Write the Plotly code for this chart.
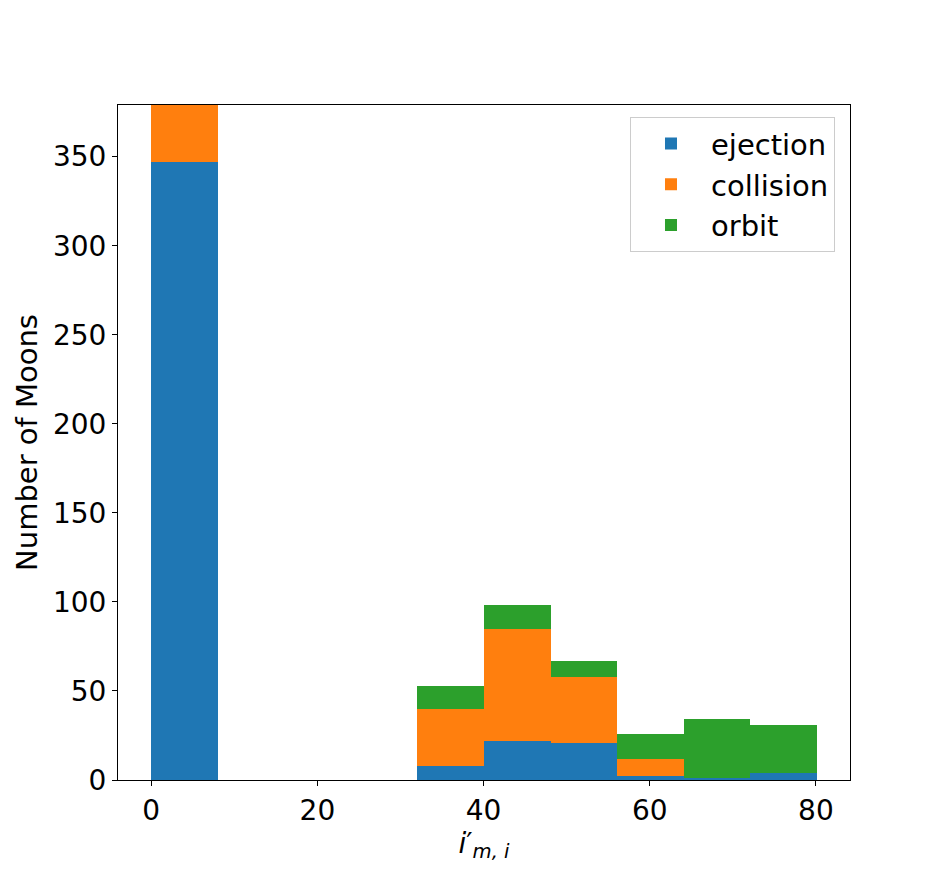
import plotly.graph_objects as go

# Histogram bin edges (inclination, deg) and stacked counts per bin
bin_edges = [0.0, 8.01, 16.02, 24.03, 32.04, 40.05, 48.06, 56.07, 64.08, 72.09, 80.1]
ejection = [347, 0, 0, 0, 8, 22, 21, 2, 1, 4]
collision = [40, 0, 0, 0, 32, 63, 37, 10, 0, 0]
orbit = [0, 0, 0, 0, 13, 13, 9, 14, 33, 27]

series = [("ejection", ejection, "#1f77b4"),
          ("collision", collision, "#ff7f0e"),
          ("orbit", orbit, "#2ca02c")]

centers = [(a + b) / 2 for a, b in zip(bin_edges[:-1], bin_edges[1:])]
widths = [b - a for a, b in zip(bin_edges[:-1], bin_edges[1:])]

fig = go.Figure()
for name, vals, col in series:
    fig.add_trace(go.Bar(x=centers, y=vals, width=widths, name=name,
                         legendgroup=name,
                         marker=dict(color=col, line=dict(width=0))))

font = "DejaVu Sans, Liberation Sans, sans-serif"
fig.update_layout(
    barmode="stack",
    width=944, height=876,
    margin=dict(l=118, r=94, t=105, b=96),
    plot_bgcolor="white", paper_bgcolor="white",
    font=dict(family=font, size=28, color="black"),
    showlegend=True,
    legend=dict(x=0.9795, y=0.982, xanchor="right", yanchor="top",
                traceorder="normal",
                bordercolor="#cccccc", borderwidth=1, bgcolor="rgba(255,255,255,0.8)",
                font=dict(size=29), itemwidth=70, tracegroupgap=12),
    xaxis=dict(range=[-4.005, 84.105], tickvals=[0, 20, 40, 60, 80],
               ticks="outside", ticklen=5, tickwidth=1, tickcolor="black",
               showline=True, linecolor="black", linewidth=1, mirror=True,
               showgrid=False, zeroline=False,
               title=dict(text="<i>i</i>′<sub><i>m, i</i></sub>", standoff=6,
                          font=dict(size=28))),
    yaxis=dict(range=[0, 379], tickvals=[0, 50, 100, 150, 200, 250, 300, 350],
               ticks="outside", ticklen=5, tickwidth=1, tickcolor="black",
               showline=True, linecolor="black", linewidth=1, mirror=True,
               showgrid=False, zeroline=False,
               title=dict(text="Number of Moons", standoff=6,
                          font=dict(size=29))),
)

fig.write_html("out.html")
